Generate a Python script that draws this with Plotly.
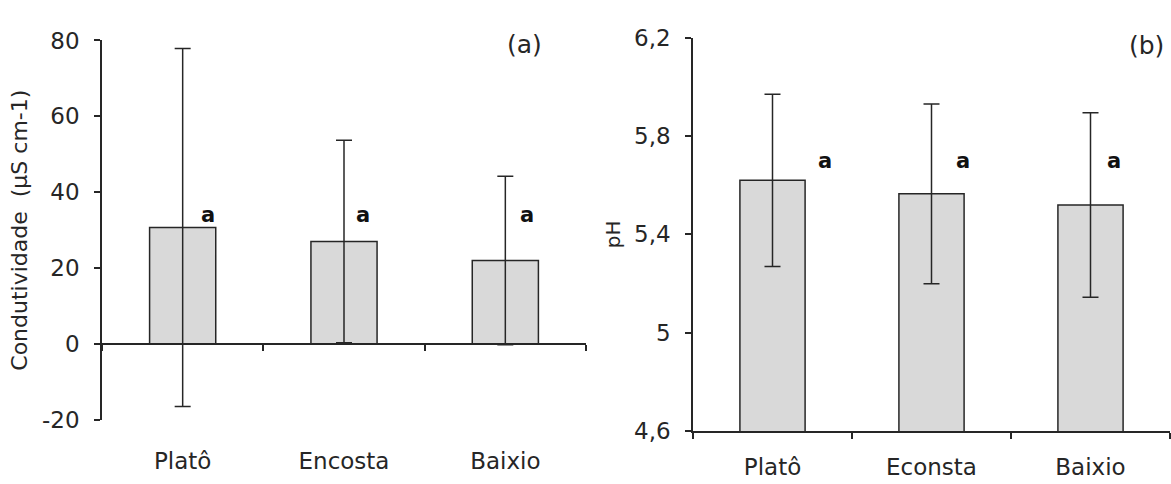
import plotly.graph_objects as go

# ---- data ----
cats_a = ["Platô", "Encosta", "Baixio"]
cond_mean = [30.7, 27.0, 22.0]
cond_sd = [47.2, 26.7, 22.2]
letters_a = ["a", "a", "a"]
letter_y_a = 34

cats_b = ["Platô", "Econsta", "Baixio"]
ph_mean = [5.62, 5.565, 5.52]
ph_sd = [0.35, 0.365, 0.375]
letters_b = ["a", "a", "a"]
letter_y_b = 5.7

yticks_a = [-20, 0, 20, 40, 60, 80]
yticktext_a = ["-20", "0", "20", "40", "60", "80"]
yticks_b = [4.6, 5.0, 5.4, 5.8, 6.2]
yticktext_b = ["4,6", "5", "5,4", "5,8", "6,2"]

# ---- style ----
FONT = "DejaVu Sans, Liberation Sans, Arial, sans-serif"
INK = "#262626"
BAR_FILL = "#d9d9d9"
LW = 1.5
shifts_a = [25, 19, 22]
shifts_b = [52, 31, 23]

W, H = 1171, 484
def px_x(p):
    return p / W
def px_y(p):
    return 1 - p / H

fig = go.Figure()

err_style = dict(type="data", visible=True, color=INK, thickness=LW, width=8)
bar_marker = dict(color=BAR_FILL, line=dict(color=INK, width=LW))

fig.add_trace(go.Bar(
    x=cats_a, y=cond_mean,
    error_y=dict(array=cond_sd, **err_style),
    marker=bar_marker, width=0.41,
    xaxis="x", yaxis="y", showlegend=False, hoverinfo="skip",
))
fig.add_trace(go.Bar(
    x=cats_b, y=ph_mean,
    error_y=dict(array=ph_sd, **err_style),
    marker=bar_marker, width=0.41,
    xaxis="x2", yaxis="y2", showlegend=False, hoverinfo="skip",
))

tickfont = dict(family=FONT, size=23, color=INK)
axis_common = dict(
    showline=True, linecolor=INK, linewidth=LW,
    ticks="outside", ticklen=6, tickwidth=LW, tickcolor=INK,
    showgrid=False, zeroline=False, tickfont=tickfont,
)

fig.update_layout(
    width=W, height=H,
    margin=dict(l=0, r=0, t=0, b=0),
    paper_bgcolor="white", plot_bgcolor="white",
    xaxis=dict(
        domain=[px_x(102), px_x(586)],
        anchor="free", position=px_y(350),
        tickson="boundaries", ticklabelstandoff=96,
        **axis_common,
    ),
    yaxis=dict(
        domain=[px_y(430), px_y(29)],
        range=[-20, 80], tickvals=yticks_a, ticktext=yticktext_a,
        anchor="x", ticklabelstandoff=10,
        title=dict(text="Condutividade\u00a0 (µS cm-1)",
                   font=dict(family=FONT, size=22, color=INK), standoff=8),
        **axis_common,
    ),
    xaxis2=dict(
        domain=[px_x(693), px_x(1170)],
        anchor="y2",
        tickson="boundaries", ticklabelstandoff=14,
        **axis_common,
    ),
    yaxis2=dict(
        domain=[px_y(442), px_y(26)],
        range=[4.6, 6.2], tickvals=yticks_b, ticktext=yticktext_b,
        anchor="x2", ticklabelstandoff=10,
        title=dict(text="pH", font=dict(family=FONT, size=20, color=INK), standoff=8),
        **axis_common,
    ),
)

annotations = []
for c, t, s in zip(cats_a, letters_a, shifts_a):
    annotations.append(dict(x=c, y=letter_y_a, xref="x", yref="y", text="<b>%s</b>" % t,
                            showarrow=False, xshift=s, yanchor="middle",
                            font=dict(family=FONT, size=21, color="#111")))
for c, t, s in zip(cats_b, letters_b, shifts_b):
    annotations.append(dict(x=c, y=letter_y_b, xref="x2", yref="y2", text="<b>%s</b>" % t,
                            showarrow=False, xshift=s, yanchor="middle",
                            font=dict(family=FONT, size=21, color="#111")))
annotations.append(dict(x=px_x(524), y=px_y(33), xref="paper", yref="paper",
                        text="(a)", showarrow=False, xanchor="center", yanchor="middle",
                        font=dict(family=FONT, size=25, color=INK)))
annotations.append(dict(x=px_x(1146), y=px_y(34), xref="paper", yref="paper",
                        text="(b)", showarrow=False, xanchor="center", yanchor="middle",
                        font=dict(family=FONT, size=25, color=INK)))
fig.update_layout(annotations=annotations)

fig.write_html("out.html")
